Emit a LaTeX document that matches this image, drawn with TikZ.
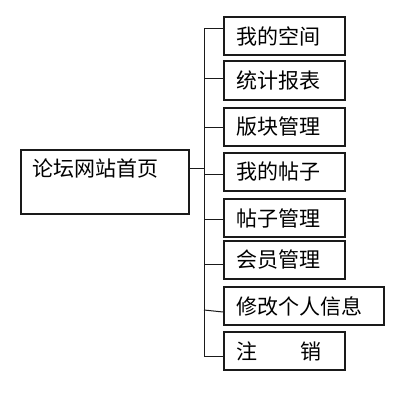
\documentclass[tikz,border=0pt]{standalone}
\usepackage{fontspec}
\usetikzlibrary{positioning}
\newfontfamily\cjk{Noto Sans CJK SC}
\definecolor{ink}{HTML}{1A1A1A}
\tikzset{
  item/.style={draw=ink,line width=2pt,anchor=west,align=left,inner xsep=12pt,
    text width=97pt,minimum height=38pt,font=\cjk\fontsize{21}{24}\selectfont},
  wideitem/.style={item,text width=136pt},
  home/.style={draw=ink,line width=1.8pt,anchor=north west,align=left,inner xsep=12pt,
    inner ysep=8pt,text width=144pt,text height=19pt,text depth=29pt,
    font=\cjk\fontsize{21}{24}\selectfont},
  link/.style={draw=ink,line width=1pt},
}
\begin{document}
\begin{tikzpicture}[x=1pt,y=-1pt]
\useasboundingbox (0,0) rectangle (415,404);
\node[home] (home) at (20,149) {论坛网站首页};
\node[item] (space) at (223,36) {我的空间};
\node[item] (stats) at (223,80.5) {统计报表};
\node[item] (board) at (223,126.5) {版块管理};
\node[item] (mypost) at (223,171.5) {我的帖子};
\node[item] (posts) at (223,218) {帖子管理};
\node[item] (member) at (223,260) {会员管理};
\node[wideitem] (profile) at (223,306) {修改个人信息};
\node[item] (logout) at (223,351) {注\hspace{44pt}销};
% bus
\coordinate (bustop) at (204,29);
\coordinate (busbot) at (204,356);
\coordinate (join) at (204,168);
\draw[link] (bustop) -- (busbot);
\draw[link] (join -| home.east) -- (join);
\draw[link] (bustop) -- (bustop -| space.west);
\draw[link] (204,79) -- (stats.west |- 0,79);
\draw[link] (204,127) -- (board.west |- 0,127);
\draw[link] (204,174) -- (mypost.west |- 0,174);
\draw[link] (204,219) -- (posts.west |- 0,219);
\draw[link] (204,264) -- (member.west |- 0,264);
\draw[link] (204,310) -- (profile.west |- 0,312);
\draw[link] (busbot) -- (busbot -| logout.west);
\end{tikzpicture}
\end{document}
